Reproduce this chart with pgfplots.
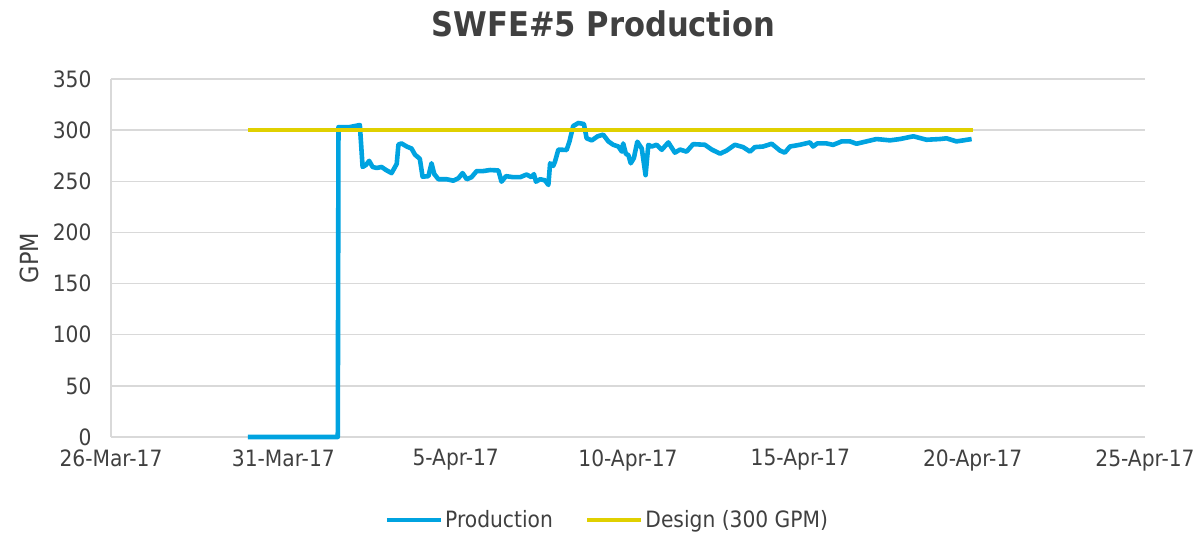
\documentclass[border=0pt]{standalone}
\usepackage{pgfplots}
\pgfplotsset{compat=1.18}
\usepackage{fontspec}
\setmainfont{DejaVu Sans Condensed}
\definecolor{prodblue}{RGB}{0,163,224}
\definecolor{desyellow}{RGB}{224,208,0}
\definecolor{gridgray}{RGB}{217,217,217}
\definecolor{txt}{RGB}{64,64,64}
\begin{document}
\begin{tikzpicture}
\path[use as bounding box] (-111pt,-98pt) rectangle (1092pt,437pt);
\begin{axis}[
  scale only axis,
  width=1034pt, height=358pt,
  xmin=0, xmax=30, ymin=0, ymax=350,
  clip=false,
  xtick={0,5,10,15,20,25,30},
  xticklabels={26-Mar-17,31-Mar-17,5-Apr-17,10-Apr-17,15-Apr-17,20-Apr-17,25-Apr-17},
  ytick={0,50,...,350},
  ymajorgrids, grid style={gridgray, line width=1.4pt},
  axis line style={gridgray, line width=1.4pt},
  axis x line*=bottom, axis y line*=left,
  major tick length=0pt,
  /pgf/number format/assume math mode=true,
  tick label style={font=\fontsize{22.5}{26}\selectfont, text=txt},
  yticklabel style={xshift=-16pt},
  xticklabel style={yshift=-9pt},
  ylabel={GPM},
  ylabel style={at={(axis description cs:-0.079,0.5)}, anchor=center, rotate=0, font=\fontsize{25}{30}\selectfont, text=txt},
  title={\bfseries SWFE\#5 Production},
  title style={at={(axis description cs:0.476,1)}, anchor=center, yshift=49pt, font=\fontsize{34}{40}\selectfont, text=txt},
  legend columns=2,
  legend style={at={(axis description cs:0.48,-0.232)}, anchor=center, draw=none, font=\fontsize{22.5}{26}\selectfont, text=txt, column sep=0pt, /tikz/every even column/.append style={column sep=30pt}},
  legend image code/.code={\draw[#1] (0pt,0pt) -- (54pt,0pt);},
]
\addplot[prodblue, line width=4.6pt, line join=round] coordinates {
(3.97,0) (6.58,0) (6.60,303) (6.64,303) (6.93,303) (7.22,305) (7.30,264) (7.40,266) (7.49,270) (7.59,264) (7.71,263) (7.85,264) (7.98,261) (8.14,258) (8.29,267) (8.34,286) (8.43,287) (8.58,284) (8.72,282) (8.82,276) (8.96,272) (9.04,254.5) (9.21,255) (9.30,267.6) (9.38,257) (9.50,252) (9.74,252) (9.93,250.6) (10.08,253) (10.20,258) (10.32,252) (10.46,254) (10.61,260) (10.80,260) (11.00,261) (11.24,260.6) (11.33,249.6) (11.46,255) (11.67,254) (11.87,254) (12.06,256.6) (12.20,254) (12.27,257) (12.33,249.6) (12.45,252) (12.59,251) (12.69,246.4) (12.74,267.6) (12.83,265) (12.88,269) (12.98,281) (13.22,280.6) (13.30,288.7) (13.41,304) (13.56,307) (13.72,306) (13.80,292) (13.95,290) (14.12,294) (14.28,295.6) (14.43,289) (14.57,285.7) (14.72,284) (14.82,279) (14.86,287) (14.94,276.7) (15.01,275.7) (15.08,267.6) (15.17,272.6) (15.27,288.7) (15.40,282) (15.51,256) (15.59,285.6) (15.69,284) (15.83,285.7) (15.98,280.8) (16.17,288) (16.36,278) (16.51,281) (16.70,279) (16.89,286.3) (17.23,285.7) (17.43,281) (17.67,277) (17.86,280) (18.10,285.7) (18.34,283.4) (18.54,279) (18.68,283.4) (18.92,284) (19.17,286.7) (19.41,280) (19.55,278) (19.70,284) (19.99,285.7) (20.28,288) (20.37,284) (20.49,287) (20.76,287) (20.95,285.6) (21.20,289) (21.44,289) (21.63,286.7) (21.92,289) (22.21,291.3) (22.60,290) (22.89,291.3) (23.28,294) (23.66,290.6) (24.05,291.3) (24.24,292) (24.53,289) (24.73,290) (24.97,291.3)
};
\addlegendentry{Production}
\addplot[desyellow, line width=4.6pt] coordinates {(3.97,300) (25.0,300)};
\addlegendentry{Design (300 GPM)}
\end{axis}
\end{tikzpicture}
\end{document}
